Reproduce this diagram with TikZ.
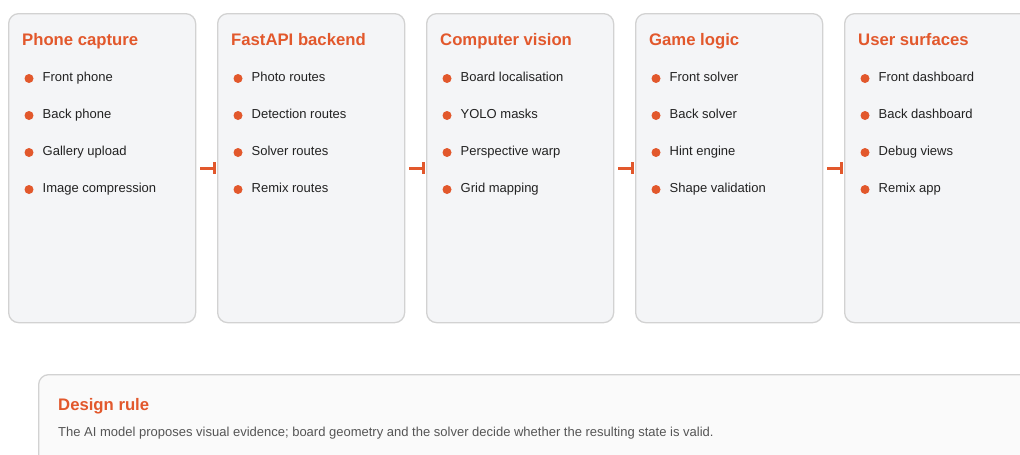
\documentclass[tikz,border=0pt]{standalone}
\usepackage{fontspec}
\setmainfont{Liberation Sans}
\usepackage{xcolor}
\usetikzlibrary{calc,arrows.meta}

\definecolor{accent}{HTML}{E2582C}
\definecolor{panelfill}{HTML}{F4F5F7}
\definecolor{panelline}{HTML}{D2D2D2}
\definecolor{notefill}{HTML}{FAFAFA}
\definecolor{itemtext}{HTML}{222222}
\definecolor{notetext}{HTML}{555555}

\tikzset{
  panel/.style={draw=panelline, fill=panelfill, line width=1.3pt, rounded corners=10pt,
    minimum width=187pt, minimum height=309pt, anchor=north west, inner sep=0pt},
  heading/.style={anchor=base west, inner sep=0pt, text=accent, font=\fontsize{16.7}{20}\selectfont\bfseries},
  entry/.style={anchor=base west, inner sep=0pt, text=itemtext, font=\fontsize{13}{16}\selectfont},
  flow/.style={draw=accent, line width=3pt, -{Bar[width=12pt,line width=3pt]}, shorten <=4pt, shorten >=1.5pt}
}

\begin{document}
\begin{tikzpicture}[x=1pt,y=-1pt]
% picture frame in pixels
\useasboundingbox (0,0) rectangle (1020,455);
\clip (0,0) rectangle (1020,455);

% Define the column spacing
\def\colStep{209}
\def\rowStep{37}

% Draw the five stage panels
\foreach \name/\title/\items [count=\i] in {
    capture/Phone capture/{Front phone,Back phone,Gallery upload,Image compression},
    backend/FastAPI backend/{Photo routes,Detection routes,Solver routes,Remix routes},
    vision/Computer vision/{Board localisation,YOLO masks,Perspective warp,Grid mapping},
    logic/Game logic/{Front solver,Back solver,Hint engine,Shape validation},
    surfaces/User surfaces/{Front dashboard,Back dashboard,Debug views,Remix app}} {
    \node[panel] (\name) at ({8+(\i-1)*\colStep},13) {};
    \node[heading] (\name-title) at ($(\name.north west)+(14,32)$) {\title};
    % bullet list
    \foreach \item [count=\j] in \items {
        \fill[accent] ($(\name.north west)+(21,{65.5+\j*\rowStep-\rowStep})$) circle (4.5pt);
        \node[entry] (\name-\j) at ($(\name.north west)+(34.5,{68.5+\j*\rowStep-\rowStep})$) {\item};
    }
}

% Add the connectors between stages
\foreach \from/\to in {capture/backend, backend/vision, vision/logic, logic/surfaces} {
    \draw[flow] (\from.east) -- (\to.west);
}

% Design rule note below
\node[draw=panelline, fill=notefill, line width=1.3pt, rounded corners=10pt, anchor=north west,
  minimum width=1020pt, minimum height=120pt] (rule) at (38,374) {};
\node[heading] (rule-title) at ($(rule.north west)+(20,36)$) {Design rule};
\node[entry, text=notetext] (rule-text) at ($(rule.north west)+(20,62.5)$)
  {The AI model proposes visual evidence; board geometry and the solver decide whether the resulting state is valid.};

\end{tikzpicture}
\end{document}
